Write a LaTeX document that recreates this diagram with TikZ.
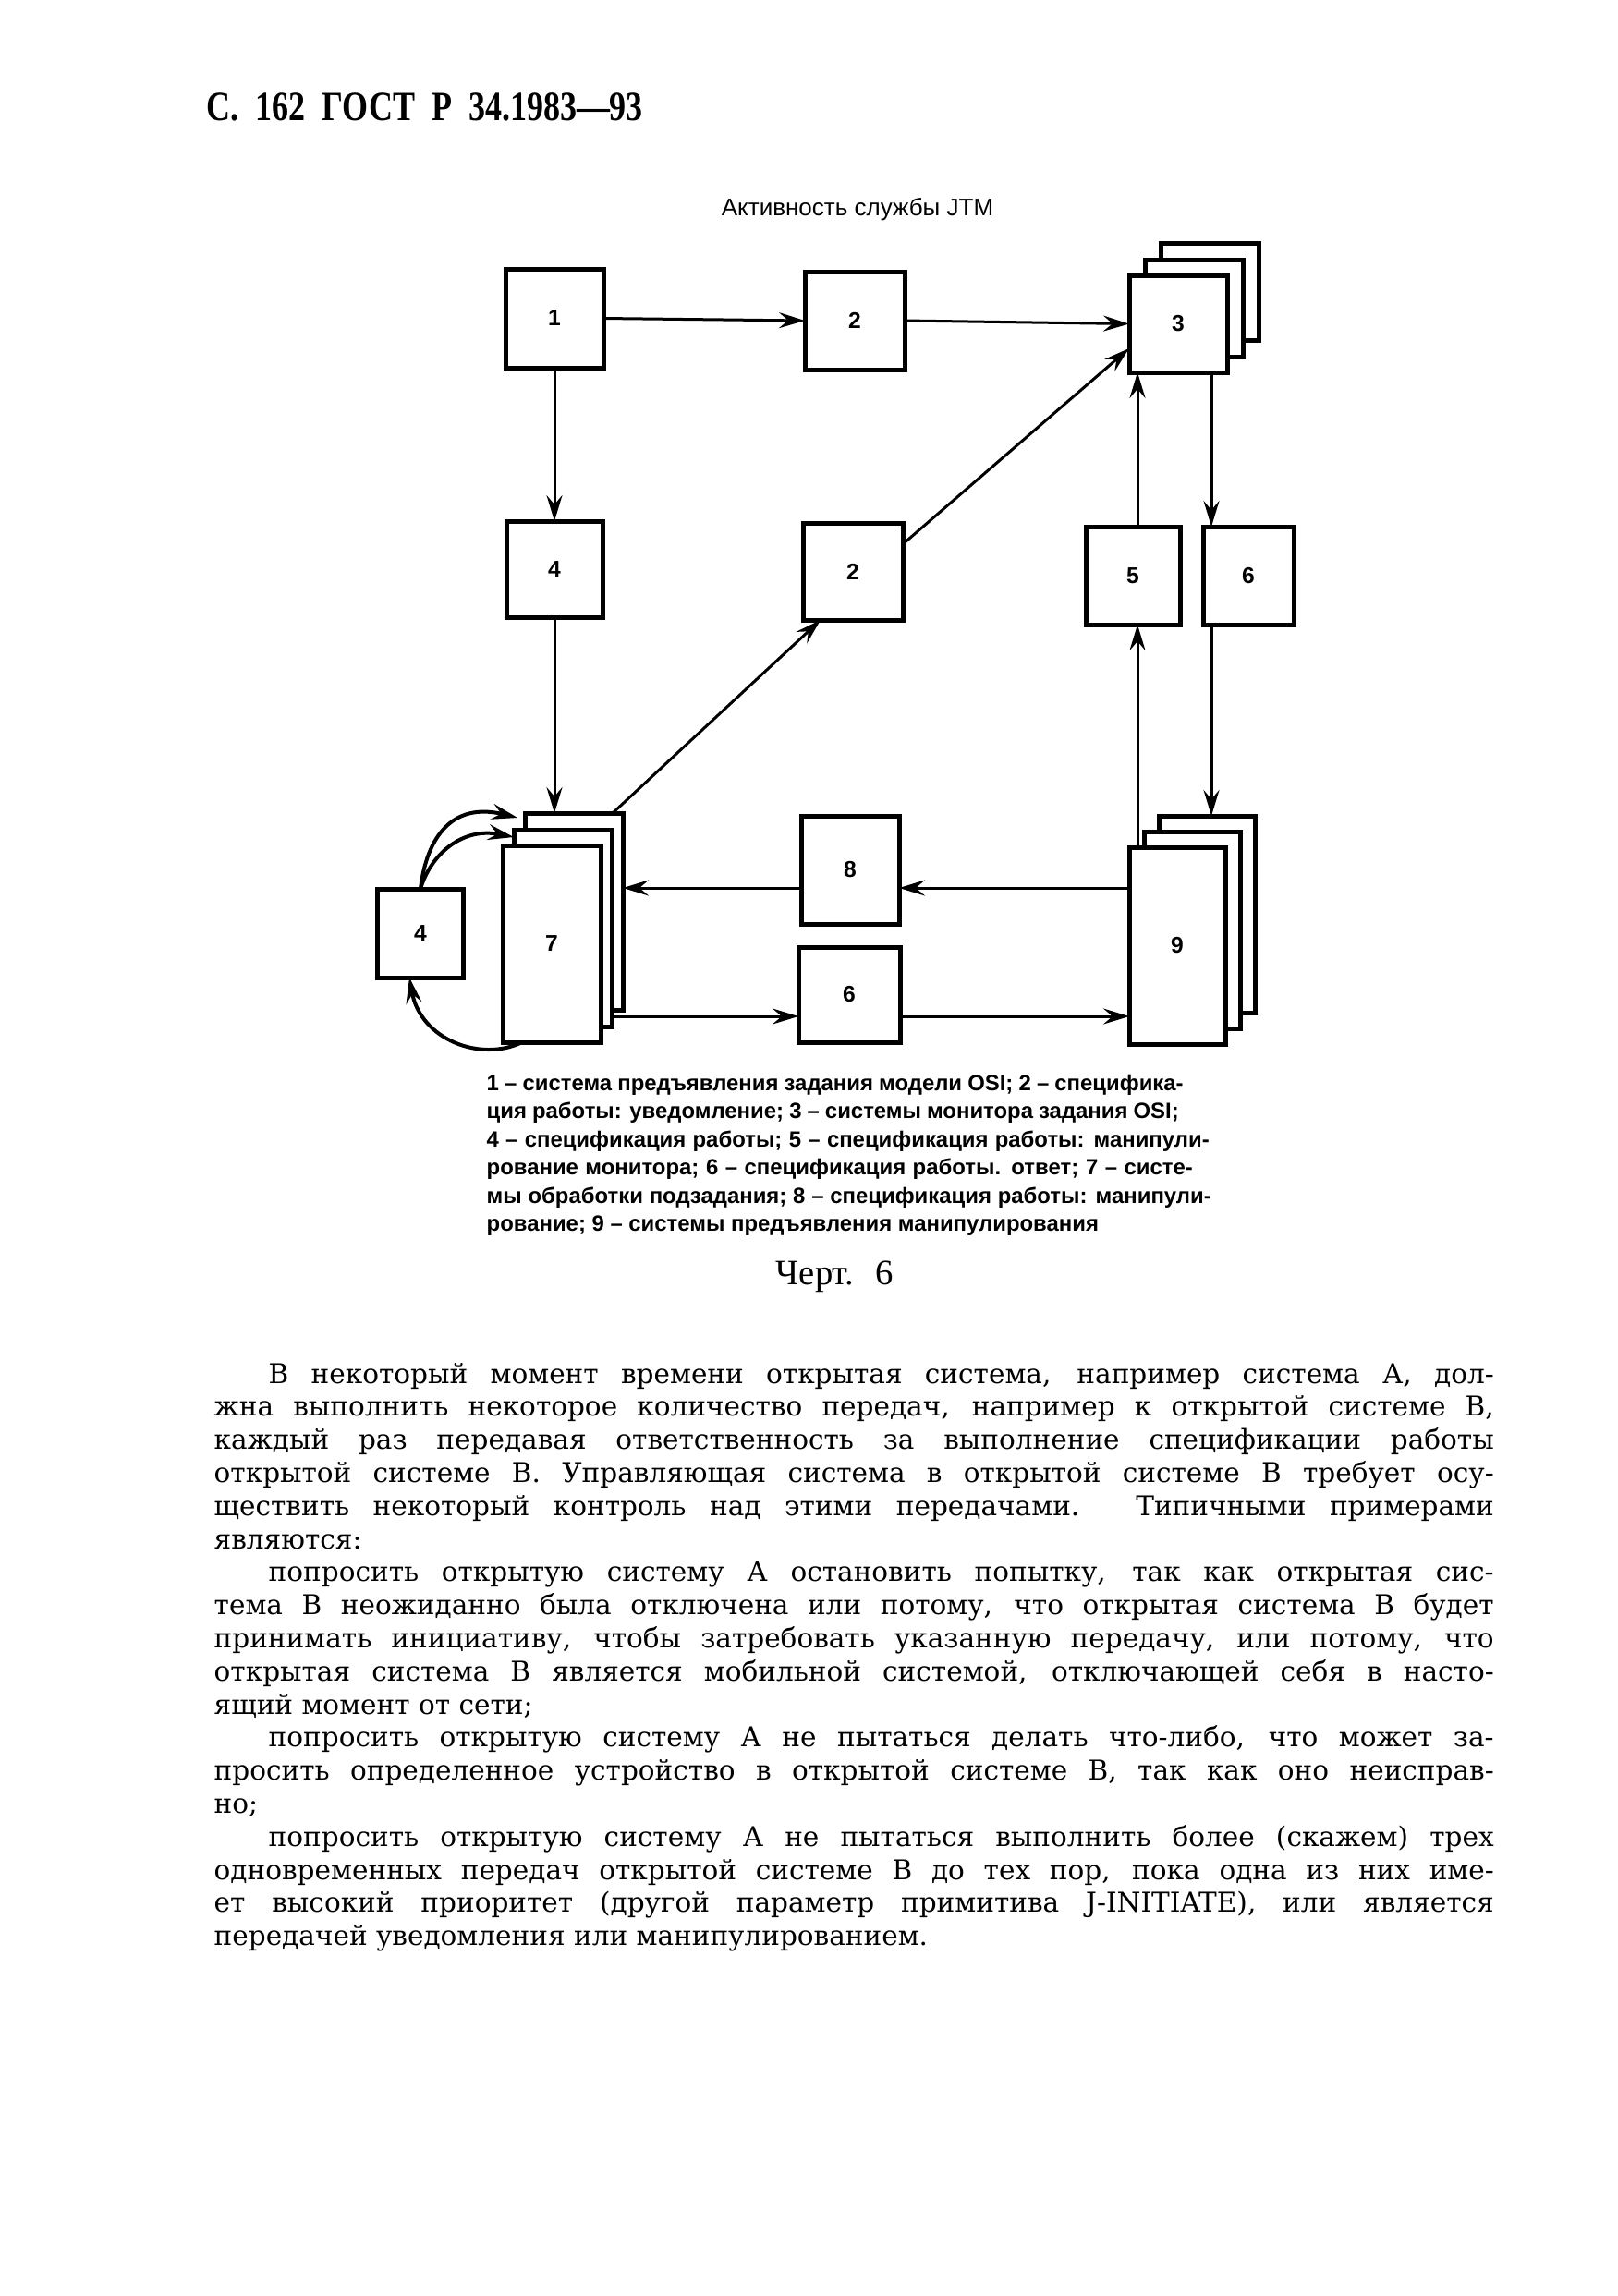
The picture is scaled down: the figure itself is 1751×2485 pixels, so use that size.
\documentclass[tikz,border=0pt]{standalone}
\usepackage{fontspec}
\setmainfont{DejaVu Serif}
\newfontfamily\bodyf{DejaVu Serif}
\newfontfamily\sansf{Liberation Sans}
\newfontfamily\headf{Liberation Serif}
\usetikzlibrary{arrows.meta,calc}
\begin{document}
\begin{tikzpicture}[x=0.1mm,y=-0.1mm,
  boxst/.style={draw, line width=0.5mm, fill=white, inner sep=0pt, outer sep=0pt,
    font=\sansf\bfseries\fontsize{7}{8}\selectfont},
  arr/.style={line width=0.3mm, -{Stealth[length=2.8mm,width=1.7mm,inset=1mm]}},
  loopar/.style={line width=0.4mm, -{Stealth[length=2.8mm,width=1.7mm,inset=1mm]}},
  capline/.style={anchor=base west, inner sep=0pt, font=\sansf\bfseries\fontsize{6.8}{8}\selectfont},
  bodyline/.style={anchor=base west, inner sep=0pt, font=\bodyf\fontsize{8.4}{9.5}\selectfont}]
\path[use as bounding box, fill=white] (0,0) rectangle (1751,2485);

% header and title
\node[anchor=base west, inner sep=0pt] (hdr) at (223,130)
  {\scalebox{0.8}[1]{\headf\bfseries\fontsize{12.8}{15}\selectfont С.\ \ 162\ \ ГОСТ\ \ Р\ \ 34.1983—93}};
\node[anchor=base, inner sep=0pt] (ttl) at (928,233)
  {\sansf\fontsize{7.4}{9}\selectfont Активность службы JTM};

% boxes
\node[boxst, minimum width=10.6mm, minimum height=10.7mm] (b1) at (600,344.5) {1};
\node[boxst, minimum width=10.8mm, minimum height=10.6mm] (b2a) at (925,347) {2};
\node[boxst, minimum width=10.6mm, minimum height=10.5mm] (b3c) at (1309,315.5) {};
\node[boxst, minimum width=10.6mm, minimum height=10.5mm] (b3b) at (1292,333.5) {};
\node[boxst, minimum width=10.6mm, minimum height=10.5mm] (b3) at (1275,350.5) {3};
\node[boxst, minimum width=10.4mm, minimum height=10.4mm] (b4a) at (600,616) {4};
\node[boxst, minimum width=10.8mm, minimum height=10.5mm] (b2b) at (923,618.5) {2};
\node[boxst, minimum width=10.2mm, minimum height=10.6mm] (b5) at (1226,623) {5};
\node[boxst, minimum width=9.8mm, minimum height=10.6mm] (b6a) at (1351,623) {6};
\node[boxst, minimum width=10.6mm, minimum height=21.3mm] (b7c) at (621,986.5) {};
\node[boxst, minimum width=10.6mm, minimum height=21.3mm] (b7b) at (609,1004.5) {};
\node[boxst, minimum width=10.6mm, minimum height=21.3mm] (b7) at (597,1021.5) {7};
\node[boxst, minimum width=9.3mm, minimum height=9.6mm] (b4b) at (455,1010) {4};
\node[boxst, minimum width=10.6mm, minimum height=11.7mm] (b8) at (920,941.5) {8};
\node[boxst, minimum width=11.0mm, minimum height=10.3mm] (b6b) at (919,1076.5) {6};
\node[boxst, minimum width=10.4mm, minimum height=21.3mm] (b9c) at (1306,989.5) {};
\node[boxst, minimum width=10.4mm, minimum height=21.3mm] (b9b) at (1290,1006.5) {};
\node[boxst, minimum width=10.4mm, minimum height=21.3mm] (b9) at (1274,1023.5) {9};

\coordinate (xA) at (1231,0);
\coordinate (xB) at (1311,0);
\coordinate (yA) at (0,961);
\coordinate (yB) at (0,1100);

% connectors
\draw[arr] (b1.east) -- (b2a.west);
\draw[arr] (b2a.east) -- (b3.west);
\draw[arr] (b1.south) -- (b4a.north);
\draw[arr] (b4a.south) -- (b7c.north -| b4a.south);
\draw[arr] ($(b2b.north east)+(0,23)$) -- ($(b3.south west)+(0,-26)$);
\draw[arr] ($(b7c.north east)+(-11,0)$) -- ($(b2b.south west)+(19,0)$);
\draw[arr] (b5.north -| xA) -- (b3.south -| xA);
\draw[arr] (b9.north -| xA) -- (b5.south -| xA);
\draw[arr] (b3.south -| xB) -- (b6a.north -| xB);
\draw[arr] (b6a.south -| xB) -- (b9c.north -| xB);
\draw[arr] (b9.west |- yA) -- (b8.east |- yA);
\draw[arr] (b8.west |- yA) -- (b7c.east |- yA);
\draw[arr] (b7b.east |- yB) -- (b6b.west |- yB);
\draw[arr] (b6b.east |- yB) -- (b9.west |- yB);
\draw[loopar] (b4b.north) .. controls (462,905) and (490,868) .. ($(b7c.north west)+(-8,5)$);
\draw[loopar] (b4b.north) .. controls (466,925) and (500,895) .. ($(b7b.north west)+(0,8)$);
\draw[loopar] ($(b7.south west)+(21,0)$) .. controls (520,1150) and (455,1125) .. ($(b4b.south)+(-12,0)$);

% caption
\node[capline] (c1) at (526,1180) {\makebox[75.4mm][s]{1 – система предъявления задания модели OSI; 2 – специфика-}};
\node[capline] (c2) at (526,1210.5) {\makebox[74.9mm][s]{ция работы: уведомление; 3 – системы монитора задания OSI;}};
\node[capline] (c3) at (526,1241) {\makebox[78.2mm][s]{4 – спецификация работы; 5 – спецификация работы: манипули-}};
\node[capline] (c4) at (526,1271.5) {\makebox[76.4mm][s]{рование монитора; 6 – спецификация работы. ответ; 7 – систе-}};
\node[capline] (c5) at (526,1302) {\makebox[78.4mm][s]{мы обработки подзадания; 8 – спецификация работы: манипули-}};
\node[capline] (c6) at (526,1332.5) {рование; 9 – системы предъявления манипулирования};
\node[anchor=base west, inner sep=0pt] (chert) at (839,1390)
  {\headf\fontsize{11}{13}\selectfont\makebox[12.7mm][s]{Черт. 6}};

% body text
\node[bodyline] (t1) at (290,1497) {\makebox[132.6mm][s]{В некоторый момент времени открытая система, например система А, дол-}};
\node[bodyline] (t2) at (231,1532.8) {\makebox[138.5mm][s]{жна выполнить некоторое количество передач, например к открытой системе В,}};
\node[bodyline] (t3) at (231,1568.6) {\makebox[138.5mm][s]{каждый раз передавая ответственность за выполнение спецификации работы}};
\node[bodyline] (t4) at (231,1604.4) {\makebox[138.5mm][s]{открытой системе В. Управляющая система в открытой системе В требует осу-}};
\node[bodyline] (t5) at (231,1640.2) {\makebox[138.5mm][s]{ществить некоторый контроль над этими передачами. Типичными примерами}};
\node[bodyline] (t6) at (231,1676) {являются:};
\node[bodyline] (t7) at (290,1711.8) {\makebox[132.6mm][s]{попросить открытую систему А остановить попытку, так как открытая сис-}};
\node[bodyline] (t8) at (231,1747.6) {\makebox[138.5mm][s]{тема В неожиданно была отключена или потому, что открытая система В будет}};
\node[bodyline] (t9) at (231,1783.4) {\makebox[138.5mm][s]{принимать инициативу, чтобы затребовать указанную передачу, или потому, что}};
\node[bodyline] (t10) at (231,1819.2) {\makebox[138.5mm][s]{открытая система В является мобильной системой, отключающей себя в насто-}};
\node[bodyline] (t11) at (231,1855) {ящий момент от сети;};
\node[bodyline] (t12) at (290,1890.8) {\makebox[132.6mm][s]{попросить открытую систему А не пытаться делать что-либо, что может за-}};
\node[bodyline] (t13) at (231,1926.6) {\makebox[138.5mm][s]{просить определенное устройство в открытой системе В, так как оно неисправ-}};
\node[bodyline] (t14) at (231,1962.4) {но;};
\node[bodyline] (t15) at (290,1998.2) {\makebox[132.6mm][s]{попросить открытую систему А не пытаться выполнить более (скажем) трех}};
\node[bodyline] (t16) at (231,2034) {\makebox[138.5mm][s]{одновременных передач открытой системе В до тех пор, пока одна из них име-}};
\node[bodyline] (t17) at (231,2069.8) {\makebox[138.5mm][s]{ет высокий приоритет (другой параметр примитива J-INITIATE), или является}};
\node[bodyline] (t18) at (231,2105.6) {передачей уведомления или манипулированием.};
\end{tikzpicture}
\end{document}
